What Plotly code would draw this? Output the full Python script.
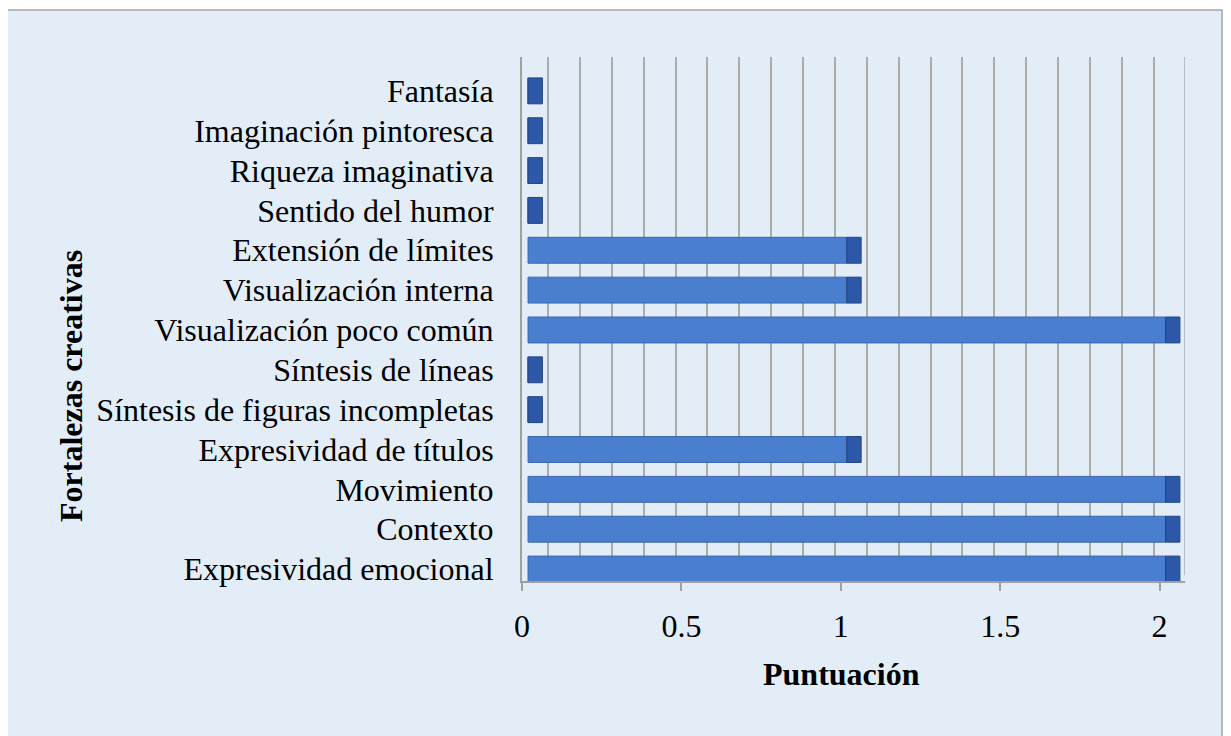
import plotly.graph_objects as go

# Data (bottom to top, as in the chart)
categories = [
    "Expresividad emocional",
    "Contexto",
    "Movimiento",
    "Expresividad de títulos",
    "Síntesis de figuras incompletas",
    "Síntesis de líneas",
    "Visualización poco común",
    "Visualización interna",
    "Extensión de límites",
    "Sentido del humor",
    "Riqueza imaginativa",
    "Imaginación pintoresca",
    "Fantasía",
]
values = [2, 2, 2, 1, 0, 0, 2, 1, 1, 0, 0, 0, 0]
x_tick_vals = [0, 0.5, 1, 1.5, 2]
x_tick_text = ["0", "0.5", "1", "1.5", "2"]

# style constants (3-D look)
SHIFT = 0.019     # bars sit at mid depth
CAP = 0.045       # visible end face of each 3-D bar
DEPTH = 0.0816    # back wall offset
BAR_W = 0.65

BG = "#E3EDF8"
FONT = "Liberation Serif, Times New Roman, serif"

fig = go.Figure()

fig.add_trace(go.Bar(
    y=categories, x=values, base=[SHIFT] * len(values), orientation="h",
    width=BAR_W, marker=dict(color="#4A7ECF", line=dict(color="#3A66B0", width=1)),
    hoverinfo="x+y", showlegend=False,
))
fig.add_trace(go.Bar(
    y=categories, x=[CAP] * len(values), base=[v + SHIFT for v in values],
    orientation="h", width=BAR_W,
    marker=dict(color="#2D58AA", line=dict(color="#22457F", width=1)),
    hoverinfo="skip", showlegend=False,
))
# helper trace to activate back-wall grid axis
fig.add_trace(go.Scatter(
    x=[0], y=[categories[0]], xaxis="x2", mode="markers",
    marker=dict(opacity=0), hoverinfo="skip", showlegend=False,
))

fig.update_layout(
    width=1223, height=728,
    margin=dict(l=514, r=46, t=49, b=155),
    paper_bgcolor="white",
    plot_bgcolor=BG,
    barmode="overlay",
    font=dict(family=FONT, size=32, color="black"),
    xaxis=dict(
        range=[0, 2.08], showgrid=False, zeroline=False,
        tickmode="array", tickvals=x_tick_vals, ticktext=x_tick_text,
        ticks="outside", ticklen=8, tickwidth=1.5, tickcolor="#A0A0A0",
        showline=True, linecolor="#A0A0A0", linewidth=2,
        ticklabelstandoff=8,
        tickfont=dict(family=FONT, size=32),
    ),
    xaxis2=dict(
        overlaying="x", range=[-DEPTH, 2.08 - DEPTH], showgrid=True,
        gridcolor="#ABABAB", gridwidth=2, dtick=0.1, tick0=0,
        showticklabels=False, zeroline=False, showline=False, side="bottom",
    ),
    yaxis=dict(
        type="category", categoryorder="array", categoryarray=categories,
        range=[-0.3, 12.85], ticks="", showgrid=False, zeroline=False,
        showline=True, linecolor="#A0A0A0", linewidth=2,
        ticklabelstandoff=20,
        tickfont=dict(family=FONT, size=32),
    ),
    shapes=[
        dict(type="rect", xref="paper", yref="paper",
             x0=-0.7768, x1=1.0558, y0=-0.33, y1=1.0897,
             fillcolor=BG, line=dict(color="#A6A6A6", width=1.5), layer="below"),
        dict(type="line", xref="x2", yref="paper", x0=2, x1=2, y0=0.011, y1=1,
             line=dict(color="#8C8C8C", width=2)),
    ],
    annotations=[
        dict(text="<b>Puntuación</b>", xref="paper", yref="paper",
             x=(841.5 - 522) / 663, y=(581 - 674) / 524, showarrow=False,
             font=dict(family=FONT, size=32), xanchor="center", yanchor="middle"),
        dict(text="<b>Fortalezas creativas</b>", xref="paper", yref="paper",
             x=(71 - 522) / 663, y=(581 - 386) / 524, showarrow=False, textangle=-90,
             font=dict(family=FONT, size=32), xanchor="center", yanchor="middle"),
    ],
)

fig.write_html("out.html")
